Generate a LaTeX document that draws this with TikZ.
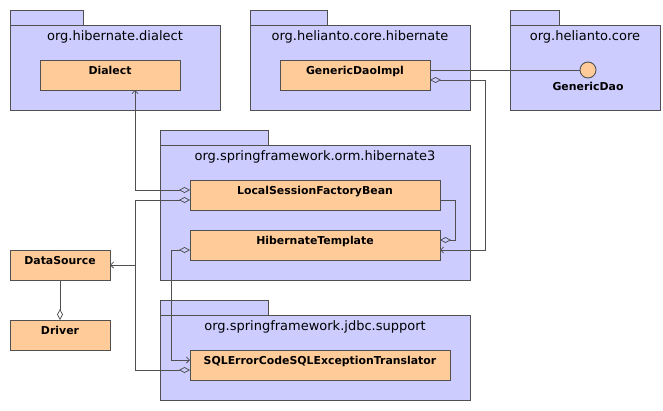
\documentclass[tikz,border=0pt]{standalone}
\usepackage{fontspec}
\setmainfont{DejaVu Sans}
\usetikzlibrary{arrows.meta}
\definecolor{pkgfill}{HTML}{CCCCFF}
\definecolor{clsfill}{HTML}{FFCC99}
\definecolor{edgecol}{HTML}{505050}
\begin{document}
\begin{tikzpicture}[x=1pt,y=-1pt,
  pkgbody/.style={draw=edgecol, fill=pkgfill, line width=0.9pt, inner sep=0pt, outer sep=0pt, anchor=north west},
  pkgtab/.style={pkgbody, anchor=south west, minimum height=15pt},
  cls/.style={draw=edgecol, fill=clsfill, line width=0.9pt, inner sep=0pt, outer sep=0pt, anchor=north west, minimum height=30pt},
  pkgtitle/.style={font=\fontsize{13}{16}\selectfont, anchor=base, inner sep=0pt},
  clslabel/.style={font=\fontsize{10.9}{13}\selectfont\bfseries, anchor=base, inner sep=0pt},
  conn/.style={draw=edgecol, line width=0.75pt},
  agg/.style={conn, {Diamond[open, length=11pt, width=6pt]}-},
  aggdep/.style={conn, {Diamond[open, length=11pt, width=6pt]}-{Straight Barb[length=3pt, width=6pt]}},
  dep/.style={conn, -{Straight Barb[length=3pt, width=6pt]}},
  aggend/.style={conn, -{Diamond[open, length=11pt, width=6pt]}}
]
\useasboundingbox (0,0) rectangle (663,410);

% packages
\node[pkgbody, minimum width=210pt, minimum height=85pt] (p1) at (10,25) {};
\node[pkgtab, minimum width=73pt] (p1tab) at (p1.north west) {};
\node[pkgtitle] (p1t) at ([yshift=-15pt]p1.north) {org.hibernate.dialect};

\node[pkgbody, minimum width=220pt, minimum height=85pt] (p2) at (250,25) {};
\node[pkgtab, minimum width=77pt] (p2tab) at (p2.north west) {};
\node[pkgtitle] (p2t) at ([yshift=-15pt]p2.north) {org.helianto.core.hibernate};

\node[pkgbody, minimum width=150pt, minimum height=85pt] (p3) at (510,25) {};
\node[pkgtab, minimum width=49pt] (p3tab) at (p3.north west) {};
\node[pkgtitle] (p3t) at ([yshift=-15pt]p3.north) {org.helianto.core};

\node[pkgbody, minimum width=310pt, minimum height=135pt] (p4) at (160,145) {};
\node[pkgtab, minimum width=108pt] (p4tab) at (p4.north west) {};
\node[pkgtitle] (p4t) at ([yshift=-15pt]p4.north) {org.springframework.orm.hibernate3};

\node[pkgbody, minimum width=310pt, minimum height=85pt] (p5) at (160,315) {};
\node[pkgtab, minimum width=108pt] (p5tab) at (p5.north west) {};
\node[pkgtitle] (p5t) at ([yshift=-15.5pt]p5.north) {org.springframework.jdbc.support};

% classes
\node[cls, minimum width=140pt] (dialect) at (40,60) {};
\node[clslabel] at ([yshift=-14pt]dialect.north) {Dialect};

\node[cls, minimum width=150pt] (gdi) at (280,60) {};
\node[clslabel] at ([yshift=-14pt]gdi.north) {GenericDaoImpl};

\node[circle, draw=edgecol, fill=clsfill, line width=0.9pt, minimum size=16pt, inner sep=0pt] (gdao) at (588,70) {};
\node[clslabel] at (588,90) {GenericDao};

\node[cls, minimum width=250pt] (lsfb) at (190,180) {};
\node[clslabel] at ([yshift=-14pt]lsfb.north) {LocalSessionFactoryBean};

\node[cls, minimum width=250pt] (ht) at (190,230) {};
\node[clslabel] at ([yshift=-14pt]ht.north) {HibernateTemplate};

\node[cls, minimum width=260pt] (sqle) at (190,350) {};
\node[clslabel] at ([yshift=-14.5pt]sqle.north) {SQLErrorCodeSQLExceptionTranslator};

\node[cls, minimum width=100pt] (ds) at (10,250) {};
\node[clslabel] at ([yshift=-14pt]ds.north) {DataSource};

\node[cls, minimum width=100pt] (drv) at (10,320) {};
\node[clslabel] at ([yshift=-14pt]drv.north) {Driver};

% connectors
\coordinate (j1) at (135,265);
\draw[aggdep] ([yshift=5pt]lsfb.west) -| ([xshift=25pt]dialect.south);
\draw[agg] ([yshift=-5pt]lsfb.west) -| (j1);
\draw[dep] (j1) -- (ds.east);
\draw[agg] ([yshift=-5pt]sqle.west) -| (j1);
\draw[agg] ([yshift=5pt]ht.east) -- ++(15,0) |- ([yshift=-5pt]lsfb.east);
\draw[aggdep] ([yshift=-5pt]gdi.east) -- ++(55,0) |- ([yshift=-5pt]ht.east);
\draw[conn] ([yshift=5pt]gdi.east) -- (gdao.west);
\draw[aggdep] ([yshift=-5pt]ht.west) -- ++(-19,0) |- ([yshift=5pt]sqle.west);
\draw[aggend] (ds.south) -- (drv.north);
\end{tikzpicture}
\end{document}
